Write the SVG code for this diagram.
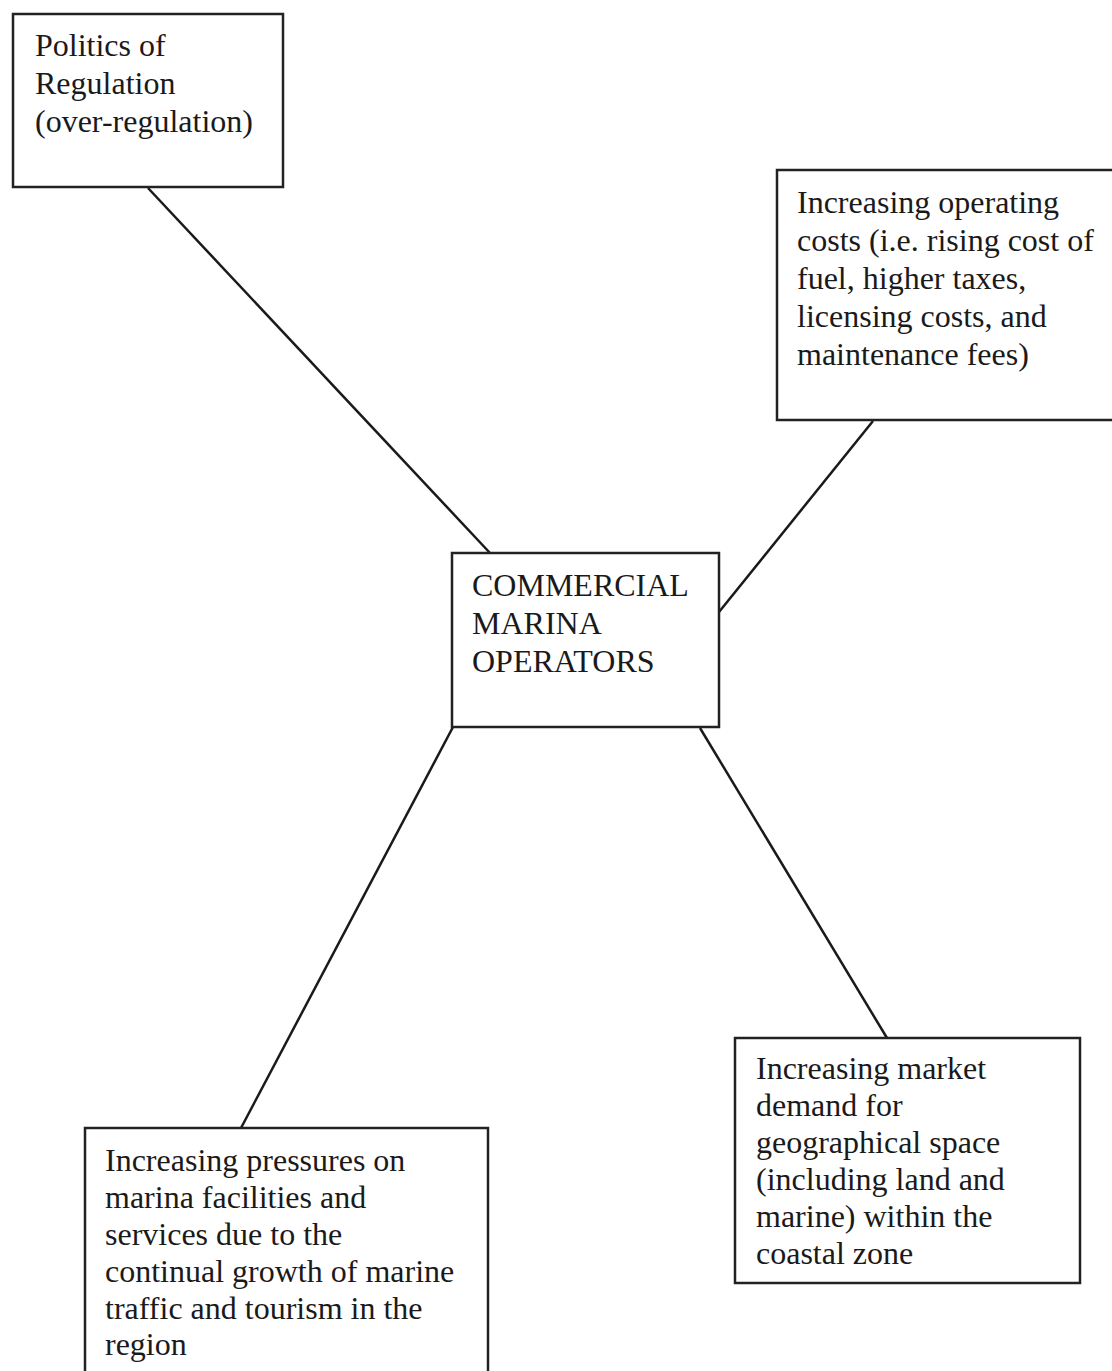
<svg xmlns="http://www.w3.org/2000/svg" width="1112" height="1371" viewBox="0 0 1112 1371">
<style>
.box{fill:#fff;stroke:#222;stroke-width:2.5}
.t{font-family:"Liberation Serif","Times New Roman",serif;font-size:32px;fill:#1a1a1a}
.ln{stroke:#1a1a1a;stroke-width:2.5;fill:none}
</style>
<rect width="1112" height="1371" fill="#fff"/>
<g id="connectors">
<line class="ln" x1="148" y1="188" x2="490" y2="553"/>
<line class="ln" x1="873" y1="421" x2="719" y2="612"/>
<line class="ln" x1="453" y1="727" x2="241" y2="1128"/>
<line class="ln" x1="700" y1="728" x2="887" y2="1038"/>
</g>
<g id="politics">
<rect class="box" x="13" y="14" width="270" height="173"/>
<text class="t"><tspan x="35" y="56">Politics of</tspan><tspan x="35" y="94">Regulation</tspan><tspan x="35" y="132">(over-regulation)</tspan></text>
</g>
<g id="costs">
<rect class="box" x="777" y="170" width="345" height="250"/>
<text class="t"><tspan x="797" y="213">Increasing operating</tspan><tspan x="797" y="251">costs (i.e. rising cost of</tspan><tspan x="797" y="289">fuel, higher taxes,</tspan><tspan x="797" y="327">licensing costs, and</tspan><tspan x="797" y="365">maintenance fees)</tspan></text>
</g>
<g id="center">
<rect class="box" x="452" y="553" width="267" height="174"/>
<text class="t"><tspan x="472" y="596">COMMERCIAL</tspan><tspan x="472" y="634">MARINA</tspan><tspan x="472" y="672">OPERATORS</tspan></text>
</g>
<g id="market">
<rect class="box" x="735" y="1038" width="345" height="245"/>
<text class="t"><tspan x="756" y="1079">Increasing market</tspan><tspan x="756" y="1116">demand for</tspan><tspan x="756" y="1153">geographical space</tspan><tspan x="756" y="1190">(including land and</tspan><tspan x="756" y="1227">marine) within the</tspan><tspan x="756" y="1264">coastal zone</tspan></text>
</g>
<g id="pressures">
<rect class="box" x="85" y="1128" width="403" height="260"/>
<text class="t"><tspan x="105" y="1171">Increasing pressures on</tspan><tspan x="105" y="1208">marina facilities and</tspan><tspan x="105" y="1245">services due to the</tspan><tspan x="105" y="1282">continual growth of marine</tspan><tspan x="105" y="1319">traffic and tourism in the</tspan><tspan x="105" y="1355">region</tspan></text>
</g>
</svg>
